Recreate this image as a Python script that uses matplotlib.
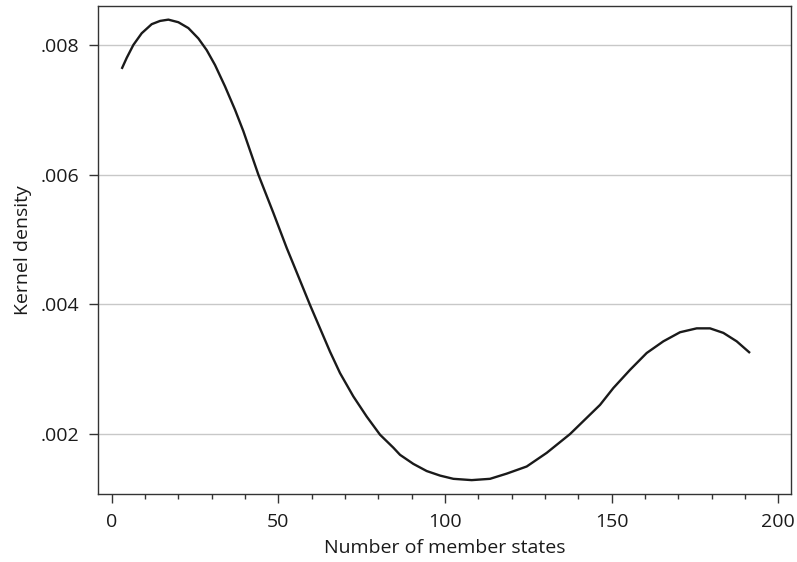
import matplotlib
matplotlib.use("Agg")
import matplotlib.pyplot as plt
from matplotlib.ticker import FuncFormatter, MultipleLocator

plt.rcParams["font.family"] = ["Open Sans", "DejaVu Sans"]

# values
members = [3.0, 4.5, 6.5, 9.0, 12.0, 14.5, 17.0, 20.0, 23.0, 26.0, 28.5,
           31.0, 34.0, 37.0, 39.5, 44.0, 48.5, 52.5, 54.5, 59.5, 65.5, 68.5,
           72.5, 76.5, 80.5, 84.5, 86.5, 90.5, 94.5, 98.5, 102.5, 108.0,
           113.5, 118.5, 124.5, 130.5, 137.5, 146.5, 150.5, 155.5, 160.5,
           165.5, 170.5, 175.5, 179.5, 183.5, 187.5, 191.5]
density = [0.00763, 0.00780, 0.00800, 0.00818, 0.00832, 0.00837, 0.00839,
           0.00835, 0.00826, 0.00810, 0.00792, 0.00769, 0.00736, 0.00700,
           0.00667, 0.00600, 0.00541, 0.00487, 0.00462, 0.00399, 0.00327,
           0.00294, 0.00258, 0.00227, 0.00199, 0.00179, 0.00168, 0.00154,
           0.00143, 0.00136, 0.00131, 0.00129, 0.00131, 0.00139, 0.00150,
           0.00171, 0.00200, 0.00245, 0.00271, 0.00299, 0.00325, 0.00343,
           0.00357, 0.00363, 0.00363, 0.00356, 0.00343, 0.00325]

x_ticks = [0, 50, 100, 150, 200]
y_ticks = [0.002, 0.004, 0.006, 0.008]

fig = plt.figure(figsize=(7.97, 5.62), dpi=100)
ax = fig.add_axes([0.123, 0.121, 0.8695, 0.8683])

ax.plot(members, density, color="#1a1a1a", lw=1.7,
        solid_joinstyle="round", solid_capstyle="butt")

ax.set_xlim(-4.1, 203.8)
ax.set_ylim(0.001076, 0.0086)
ax.set_xticks(x_ticks)
ax.set_yticks(y_ticks)
ax.xaxis.set_minor_locator(MultipleLocator(10))
ax.yaxis.set_major_formatter(FuncFormatter(lambda v, p: ("%.3f" % v).lstrip("0")))

ax.grid(axis="y", color="#c8c8c8", lw=1.0)
ax.set_axisbelow(True)

for s in ax.spines.values():
    s.set_color("#333333")
    s.set_linewidth(1.0)

ax.tick_params(which="major", length=6.5, width=1.0, color="#333333",
               labelsize=14, pad=7, labelcolor="#1a1a1a")
ax.tick_params(which="minor", length=3.5, width=1.0, color="#333333")

ax.set_xlabel("Number of member states", fontsize=14, color="#1a1a1a", labelpad=6)
ax.set_ylabel("Kernel density", fontsize=14, color="#1a1a1a", labelpad=6)

fig.savefig("out.png", dpi=100)
